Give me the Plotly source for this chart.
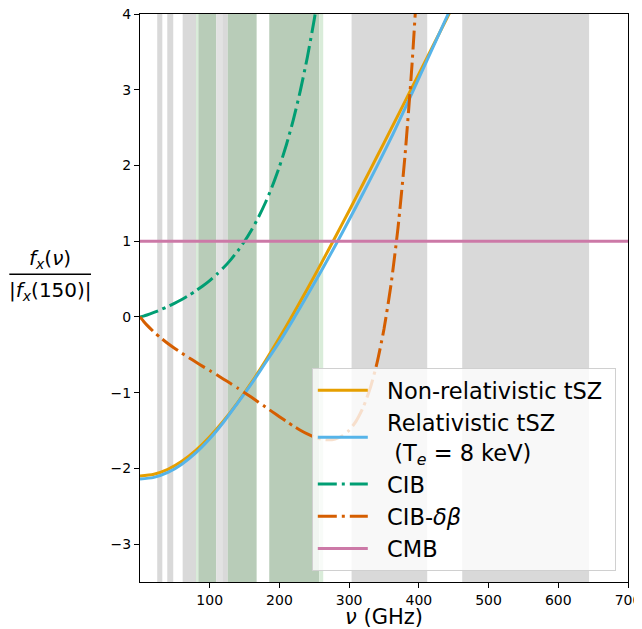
import plotly.graph_objects as go

# ---------------- data ----------------
nu_tsz = [0, 20, 40, 60, 80, 100, 120, 140, 160, 180, 200, 220, 240, 260,
          280, 300, 320, 340, 360, 380, 400, 420, 440, 460]
tsz_nonrel = [-2.099, -2.077, -2.013, -1.907, -1.763, -1.582, -1.370, -1.130,
              -0.865, -0.579, -0.276, 0.041, 0.370, 0.707, 1.053, 1.403,
              1.759, 2.118, 2.479, 2.843, 3.208, 3.574, 3.941, 4.309]
tsz_rel = [-2.140, -2.118, -2.053, -1.944, -1.795, -1.608, -1.387, -1.137,
           -0.880, -0.605, -0.330, -0.029, 0.287, 0.608, 0.940, 1.283,
           1.634, 1.992, 2.361, 2.752, 3.153, 3.556, 3.959, 4.364]

nu_cib = [0, 2, 5, 10, 20, 30, 40, 50, 60, 70, 80, 90, 100, 110, 120, 130,
          140, 150, 160, 170, 180, 190, 200, 210, 220, 230, 240, 250, 260, 270]
cib = [0.0, 0.0038, 0.0113, 0.0259, 0.0593, 0.0968, 0.1377, 0.1823, 0.2310,
       0.2841, 0.3438, 0.4087, 0.4803, 0.5610, 0.6517, 0.7538, 0.8692, 1.0,
       1.1486, 1.3179, 1.5110, 1.7321, 1.9847, 2.2741, 2.6063, 2.9879,
       3.4265, 3.9319, 4.5129, 5.1829]

nu_dbeta = [0, 2, 5, 10, 20, 30, 40, 50, 60, 70, 80, 90, 100, 110, 120, 130,
            140, 150, 160, 170, 180, 190, 200, 210, 220, 230, 240, 250, 260,
            270, 280, 290, 300, 310, 320, 330, 340, 350, 360, 370, 380, 390, 400]
cib_dbeta = [0.0, -0.0227, -0.0560, -0.1078, -0.1990, -0.2787, -0.3504,
             -0.4164, -0.4784, -0.5371, -0.5963, -0.6527, -0.7079, -0.7643,
             -0.8216, -0.8798, -0.9393, -1.0, -1.0620, -1.1252, -1.1891,
             -1.2536, -1.3175, -1.3800, -1.4400, -1.4956, -1.5447, -1.5850,
             -1.6125, -1.6233, -1.6121, -1.5727, -1.4972, -1.3757, -1.1972,
             -0.9468, -0.6076, -0.1595, 0.4230, 1.1695, 2.1166, 3.3079, 4.7954]

nu_cmb = [0, 700]
cmb = [1.0, 1.0]

# frequency bands (GHz): lower edge, upper edge, kind
band_lo = [24.7, 39.1, 61.2, 80.3, 83.7, 109.3, 118.0, 125.8, 185.4, 257.1, 303.5, 462.2]
band_hi = [32.0, 47.7, 80.3, 83.7, 109.3, 118.0, 125.8, 167.3, 257.1, 262.8, 412.0, 644.2]
band_kind = ["gray", "gray", "gray", "green", "both", "light", "gray", "both",
             "both", "green", "gray", "gray"]

x_ticks = [100, 200, 300, 400, 500, 600, 700]
y_ticks = [-3, -2, -1, 0, 1, 2, 3, 4]

# ---------------- styling ----------------
FONT = "DejaVu Sans"
band_colors = {"gray": "#d9d9d9", "both": "#b8ccb8", "green": "#d9ecd9", "light": "#e2e2e2"}
DASHDOT = "19px,5px,3px,5px"
PAD = "&nbsp;&nbsp;"

fig = go.Figure()

fig.add_trace(go.Scatter(x=nu_tsz, y=tsz_nonrel, mode="lines",
                         name=PAD + "Non-relativistic tSZ&nbsp;", legendgroup="a",
                         line=dict(color="#E69F00", width=3, shape="spline", smoothing=0.8)))
fig.add_trace(go.Scatter(x=nu_tsz, y=tsz_rel, mode="lines", legendgroup="b",
                         name=PAD + "Relativistic tSZ<br>" + PAD + " (T<sub><i>e</i></sub> = 8 keV)",
                         line=dict(color="#56B4E9", width=3, shape="spline", smoothing=0.8)))
fig.add_trace(go.Scatter(x=nu_cib, y=cib, mode="lines", name=PAD + "CIB", legendgroup="c",
                         line=dict(color="#009E73", width=3, dash=DASHDOT,
                                   shape="spline", smoothing=0.6)))
fig.add_trace(go.Scatter(x=nu_dbeta, y=cib_dbeta, mode="lines", legendgroup="d",
                         name=PAD + "CIB-<i>δβ</i>",
                         line=dict(color="#D55E00", width=3, dash=DASHDOT,
                                   shape="spline", smoothing=0.6)))
fig.add_trace(go.Scatter(x=nu_cmb, y=cmb, mode="lines", name=PAD + "CMB", legendgroup="e",
                         line=dict(color="#CC79A7", width=3)))

shapes = []
for lo, hi, kind in zip(band_lo, band_hi, band_kind):
    shapes.append(dict(type="rect", xref="x", yref="paper", x0=lo, x1=hi,
                       y0=0, y1=1, fillcolor=band_colors[kind],
                       line=dict(width=0), layer="below"))
# fraction bar of the y-axis label
shapes.append(dict(type="line", xref="paper", yref="paper",
                   x0=-0.2678, x1=-0.1004, y0=0.5417, y1=0.5417,
                   line=dict(color="black", width=1.6)))

annotations = [
    dict(xref="paper", yref="paper", x=-0.184, y=0.569, showarrow=False,
         text="<i>f</i><sub><i>x</i></sub>(<i>ν</i>)", xanchor="center",
         yanchor="middle", font=dict(family=FONT, size=20, color="black")),
    dict(xref="paper", yref="paper", x=-0.184, y=0.512, showarrow=False,
         text="|<i>f</i><sub><i>x</i></sub>(150)|", xanchor="center",
         yanchor="middle", font=dict(family=FONT, size=20, color="black")),
]

# the page body has an 8px margin, so the figure starts 8px into the window
fig.update_layout(
    width=634, height=621,
    margin=dict(l=132, r=14, t=6, b=47, autoexpand=False),
    paper_bgcolor="white", plot_bgcolor="white",
    font=dict(family=FONT, color="black"),
    shapes=shapes, annotations=annotations,
    showlegend=True,
    legend=dict(x=0.975, y=0.019, xanchor="right", yanchor="bottom",
                bgcolor="rgba(255,255,255,0.8)", bordercolor="#d0d0d0",
                borderwidth=1, font=dict(family=FONT, size=22.5, color="black"),
                tracegroupgap=0, itemwidth=50),
    xaxis=dict(range=[0, 700], tickvals=x_ticks, ticks="outside", ticklen=5,
               tickcolor="black", showgrid=False, zeroline=False,
               showline=True, linecolor="black", linewidth=1, mirror=True,
               ticklabeloverflow="allow",
               tickfont=dict(size=14, family=FONT),
               title=dict(text="<i>ν</i> (GHz)", font=dict(size=21, family=FONT),
                          standoff=0)),
    yaxis=dict(range=[-3.5, 4], tickvals=y_ticks, ticks="outside", ticklen=5,
               tickcolor="black", showgrid=False, zeroline=False,
               showline=True, linecolor="black", linewidth=1, mirror=True,
               ticklabeloverflow="allow",
               tickfont=dict(size=14, family=FONT)),
)

fig.write_html("out.html")
